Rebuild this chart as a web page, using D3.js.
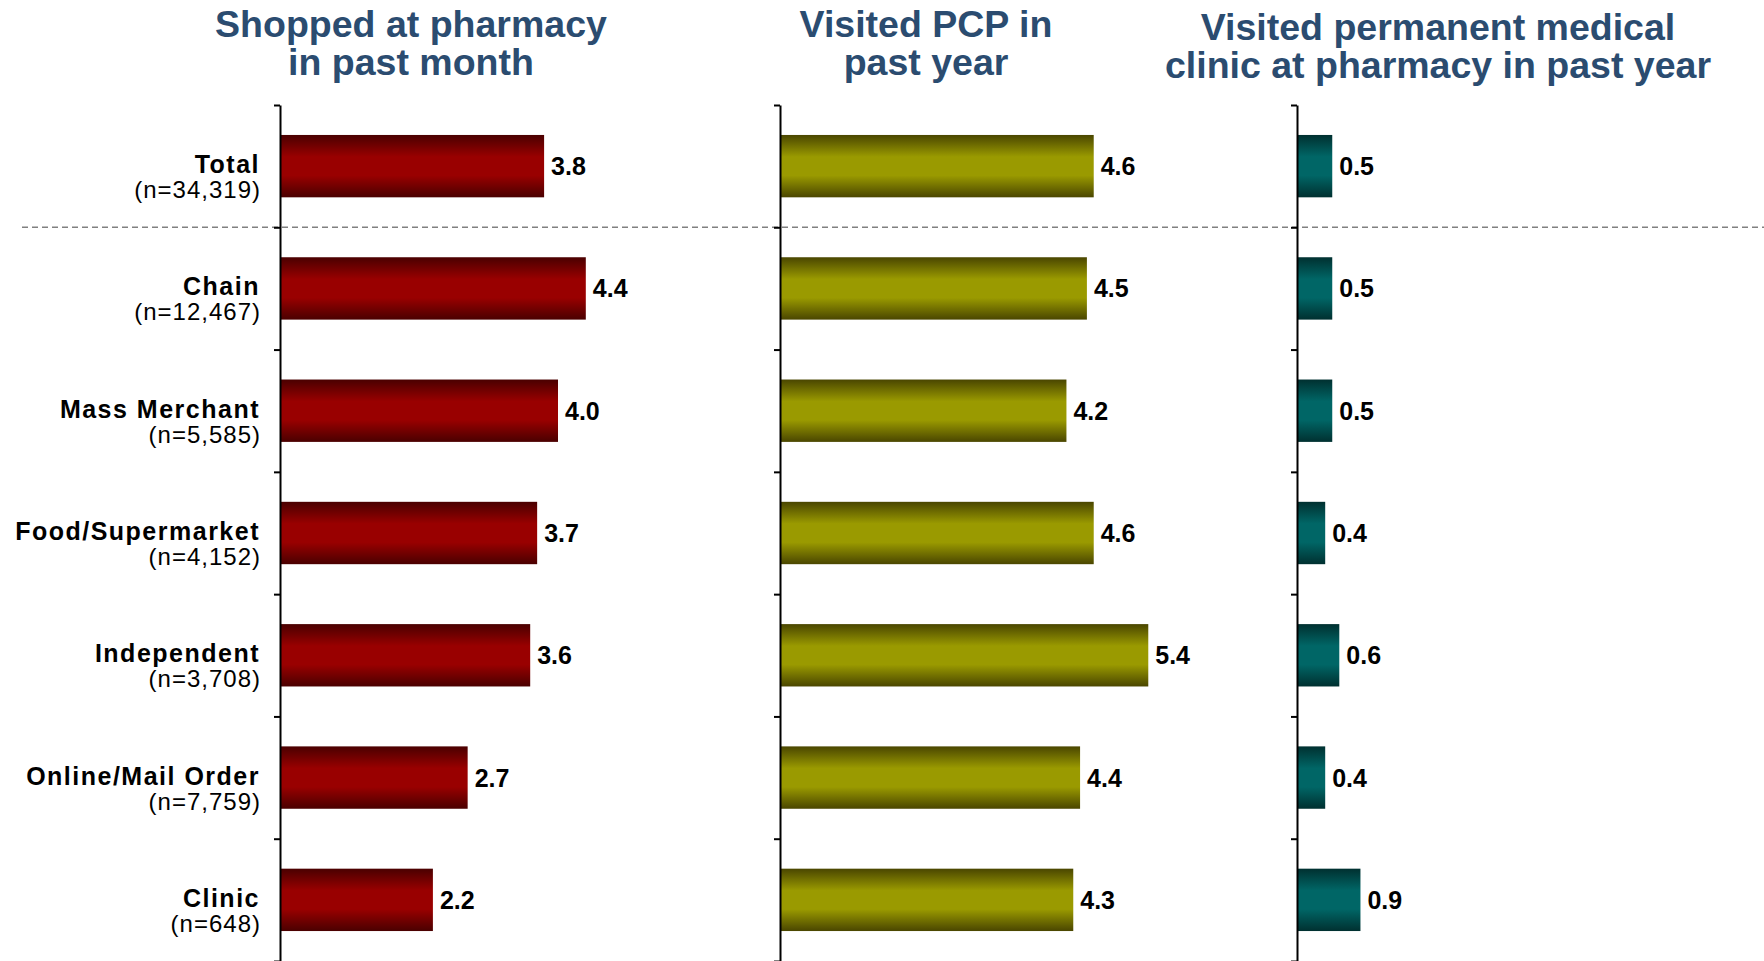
<!DOCTYPE html>
<html>
<head>
<meta charset="utf-8">
<script src="https://cdn.jsdelivr.net/npm/d3@7"></script>
<style>
  body { margin: 0; background: #fff; }
  .title { font-family: 'Liberation Sans', Arial, sans-serif; font-weight: bold; fill: #2b4c70; text-anchor: middle; font-size: 37.5px; }
  .cat-name { font-family: 'Liberation Sans', Arial, sans-serif; font-weight: bold; font-size: 25px; letter-spacing: 1.5px; text-anchor: end; }
  .cat-n { font-family: 'Liberation Sans', Arial, sans-serif; font-size: 24px; letter-spacing: 1px; text-anchor: end; }
  .value { font-family: 'Liberation Sans', Arial, sans-serif; font-weight: bold; font-size: 25px; }
</style>
</head>
<body>
<svg width="1764" height="961"></svg>
<script>
var categories = ['Total', 'Chain', 'Mass Merchant', 'Food/Supermarket', 'Independent', 'Online/Mail Order', 'Clinic'];
var sampleSizes = ['34,319', '12,467', '5,585', '4,152', '3,708', '7,759', '648'];
var shoppedPharmacy = [3.8, 4.4, 4.0, 3.7, 3.6, 2.7, 2.2];
var visitedPcp = [4.6, 4.5, 4.2, 4.6, 5.4, 4.4, 4.3];
var visitedClinic = [0.5, 0.5, 0.5, 0.4, 0.6, 0.4, 0.9];

var svg = d3.select('svg');

var plotTop = 105, plotBottom = 961;

var y = d3.scaleBand()
    .domain(categories)
    .range([plotTop, plotBottom])
    .paddingInner(0.49)
    .paddingOuter(0.245);

// boundaries between rows, for tick marks
var yEdge = d3.scaleLinear()
    .domain([0, categories.length])
    .range([plotTop, plotBottom]);

var panels = [
    {values: shoppedPharmacy, x0: 280, unit: 69.5, title: ['Shopped at pharmacy', 'in past month'], tx: 411, ty: 37,
     colors: ['#4a0000', '#990000']},
    {values: visitedPcp, x0: 780, unit: 68.2, title: ['Visited PCP in', 'past year'], tx: 926, ty: 37,
     colors: ['#4a4600', '#9a9a00']},
    {values: visitedClinic, x0: 1297, unit: 70.5, title: ['Visited permanent medical', 'clinic at pharmacy in past year'], tx: 1438, ty: 40,
     colors: ['#003030', '#006666']}
];

var defs = svg.append('defs');

panels.forEach(function(p, i) {
    var grad = defs.append('linearGradient')
        .attr('id', 'grad' + i)
        .attr('x1', 0).attr('y1', 0).attr('x2', 0).attr('y2', 1);
    grad.append('stop').attr('offset', '0%').attr('stop-color', p.colors[0]);
    grad.append('stop').attr('offset', '35%').attr('stop-color', p.colors[1]);
    grad.append('stop').attr('offset', '65%').attr('stop-color', p.colors[1]);
    grad.append('stop').attr('offset', '100%').attr('stop-color', p.colors[0]);
});

// dashed separator under Total
svg.append('line')
    .attr('x1', 22).attr('x2', 1764)
    .attr('y1', yEdge(1)).attr('y2', yEdge(1))
    .attr('stroke', '#808080')
    .attr('stroke-width', 1.5)
    .attr('stroke-dasharray', '6,4');

panels.forEach(function(p, i) {
    var x = d3.scaleLinear()
        .domain([0, 6])
        .range([p.x0, p.x0 + 6 * p.unit]);

    var g = svg.append('g');

    g.selectAll('rect')
        .data(categories)
        .enter().append('rect')
        .attr('x', x(0))
        .attr('y', function(d) { return y(d); })
        .attr('width', function(d, j) { return x(p.values[j]) - x(0); })
        .attr('height', y.bandwidth())
        .attr('fill', 'url(#grad' + i + ')');

    g.selectAll('text.value')
        .data(categories)
        .enter().append('text')
        .attr('class', 'value')
        .attr('x', function(d, j) { return x(p.values[j]) + 7; })
        .attr('y', function(d) { return y(d) + y.bandwidth() / 2 + 9; })
        .text(function(d, j) { return p.values[j].toFixed(1); });

    var axis = d3.axisLeft(yEdge)
        .tickValues(d3.range(categories.length + 1))
        .tickFormat('')
        .tickSize(6)
        .tickSizeOuter(0);

    var ag = svg.append('g')
        .attr('transform', 'translate(' + x(0) + ',0)')
        .call(axis);
    ag.select('.domain').attr('stroke', '#000').attr('stroke-width', 2);
    ag.selectAll('.tick line').attr('stroke', '#000').attr('stroke-width', 2);

    var t = svg.append('text')
        .attr('class', 'title')
        .attr('x', p.tx)
        .attr('y', p.ty);
    t.append('tspan').attr('x', p.tx).text(p.title[0]);
    t.append('tspan').attr('x', p.tx).attr('dy', 38).text(p.title[1]);
});

// category labels
var labels = svg.append('g');
labels.selectAll('text.cat-name')
    .data(categories)
    .enter().append('text')
    .attr('class', 'cat-name')
    .attr('x', 260)
    .attr('y', function(d) { return y(d) + y.bandwidth() / 2 + 7; })
    .text(function(d) { return d; });

labels.selectAll('text.cat-n')
    .data(categories)
    .enter().append('text')
    .attr('class', 'cat-n')
    .attr('x', 261)
    .attr('y', function(d) { return y(d) + y.bandwidth() / 2 + 32; })
    .text(function(d, j) { return '(n=' + sampleSizes[j] + ')'; });
</script>
</body>
</html>
